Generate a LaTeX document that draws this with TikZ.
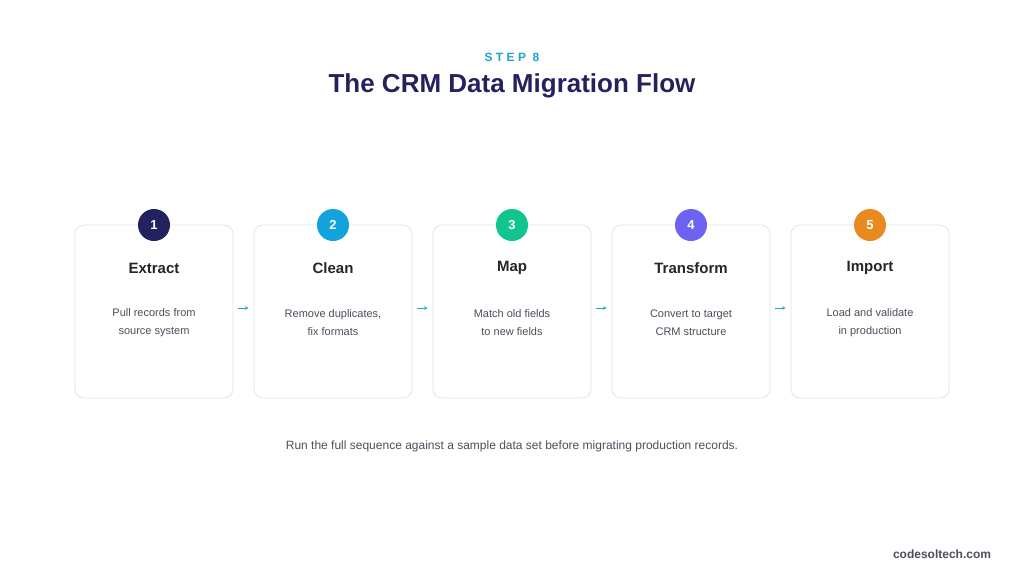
\documentclass[tikz,border=0pt]{standalone}
\usepackage{fontspec}
\setmainfont{Liberation Sans}
\usepackage{tikz}
\definecolor{navy}{HTML}{23225E}
\definecolor{cyanstep}{HTML}{12A2DC}
\definecolor{greenstep}{HTML}{12C48F}
\definecolor{violetstep}{HTML}{6E62F3}
\definecolor{orangestep}{HTML}{E88A1F}
\definecolor{steptext}{HTML}{1CA3C8}
\definecolor{bodytext}{HTML}{4A4F5A}
\definecolor{cardline}{HTML}{E1E4EA}
\tikzset{
  card/.style={draw=cardline, line width=0.8pt, fill=white, rounded corners=9pt,
    minimum width=158pt, minimum height=173pt, inner sep=0pt},
  badge/.style={circle, fill=#1, minimum size=32pt, inner sep=0pt, text=white,
    font=\bfseries\fontsize{13}{13}\selectfont},
  head/.style={font=\bfseries\fontsize{15}{15}\selectfont, text=black!85},
  desc/.style={font=\fontsize{11}{18}\selectfont, text=bodytext, align=center},
  arr/.style={->, >=stealth, steptext, line width=0.6pt}
}
\begin{document}
\begin{tikzpicture}[x=1pt,y=-1pt]
\useasboundingbox (0,0) rectangle (1024,584);
%title
\node at (512,57) {\textcolor{steptext}{\bfseries\fontsize{12}{12}\selectfont S T E P\ \ 8}};
\node[text=navy] (title) at (512,86) {\bfseries\fontsize{26}{26}\selectfont The CRM Data Migration Flow};
%cards
\node[card] (c1) at (154,311.5) {};
\node[card] (c2) at (333,311.5) {};
\node[card] (c3) at (512,311.5) {};
\node[card] (c4) at (691,311.5) {};
\node[card] (c5) at (870,311.5) {};
%badges
\node[badge=navy] (b1) at (154,225) {1};
\node[badge=cyanstep] (b2) at (333,225) {2};
\node[badge=greenstep] (b3) at (512,225) {3};
\node[badge=violetstep] (b4) at (691,225) {4};
\node[badge=orangestep] (b5) at (870,225) {5};
%headings
\node[head] (h1) at (154,268) {Extract};
\node[head] (h2) at (333,268) {Clean};
\node[head] (h3) at (512,268) {Map};
\node[head] (h4) at (691,268) {Transform};
\node[head] (h5) at (870,268) {Import};
%descriptions
\node[desc] (d1) at (154,323) {Pull records from\\source system};
\node[desc] (d2) at (333,323) {Remove duplicates,\\fix formats};
\node[desc] (d3) at (512,323) {Match old fields\\to new fields};
\node[desc] (d4) at (691,323) {Convert to target\\CRM structure};
\node[desc] (d5) at (870,323) {Load and validate\\in production};
%arrows
\draw[arr] ([xshift=5pt,yshift=3.5pt]c1.east) -- ([xshift=-5pt,yshift=3.5pt]c2.west);
\draw[arr] ([xshift=5pt,yshift=3.5pt]c2.east) -- ([xshift=-5pt,yshift=3.5pt]c3.west);
\draw[arr] ([xshift=5pt,yshift=3.5pt]c3.east) -- ([xshift=-5pt,yshift=3.5pt]c4.west);
\draw[arr] ([xshift=5pt,yshift=3.5pt]c4.east) -- ([xshift=-5pt,yshift=3.5pt]c5.west);
%notes
\node[text=bodytext, font=\fontsize{12}{12}\selectfont] (note) at (512,446) {Run the full sequence against a sample data set before migrating production records.};
\node[text=bodytext, font=\bfseries\fontsize{12}{12}\selectfont] (site) at (942,554) {codesoltech.com};
\end{tikzpicture}
\end{document}
